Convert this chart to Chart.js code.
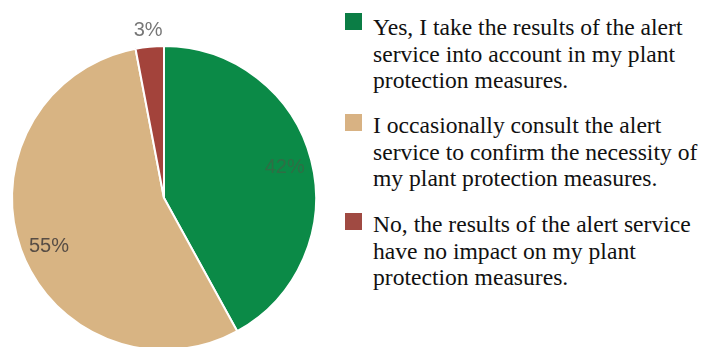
<!DOCTYPE html>
<html>
<head>
<meta charset="utf-8">
<script src="https://cdn.jsdelivr.net/npm/chart.js@4/dist/chart.umd.min.js"></script>
<style>
  html, body { margin: 0; padding: 0; width: 708px; height: 347px; overflow: hidden; background: #fff; }
  #wrap { position: absolute; left: 0; top: 0; width: 340px; height: 362px; }
  #legend { position: absolute; left: 345px; top: 0; width: 363px; font-family: "Liberation Serif", "Times New Roman", serif; font-size: 23.6px; line-height: 26.5px; color: #111; }
  .item { position: absolute; left: 0; width: 363px; }
  .sw { position: absolute; left: 0; width: 17px; height: 17px; }
  .tx { position: absolute; left: 28px; white-space: nowrap; }
</style>
</head>
<body>
<div id="wrap"><canvas id="c"></canvas></div>
<div id="legend"></div>
<script>
const categories = [
  ["Yes, I take the results of the alert", "service into account in my plant", "protection measures."],
  ["I occasionally consult the alert", "service to confirm the necessity of", "my plant protection measures."],
  ["No, the results of the alert service", "have no impact on my plant", "protection measures."]
];
const values = [42, 55, 3];
const valueLabels = ["42%", "55%", "3%"];
const colors = ["#0b8a47", "#d8b483", "#a3433b"];
const legendColors = ["#0b7d45", "#d8b283", "#a04a42"];
const labelColors = ["#2f6e45", "#574d45", "#777777"];

const labelPlugin = {
  id: 'sliceLabels',
  afterDatasetsDraw(chart) {
    const ctx = chart.ctx;
    const meta = chart.getDatasetMeta(0);
    meta.data.forEach((arc, i) => {
      const p = arc.getProps(['x', 'y', 'startAngle', 'endAngle', 'outerRadius'], true);
      const mid = (p.startAngle + p.endAngle) / 2 - (i === 1 ? 0.05 : 0);
      const f = values[i] < 10 ? 1.11 : 0.82;
      const r = p.outerRadius * f;
      const x = p.x + Math.cos(mid) * r;
      const y = p.y + Math.sin(mid) * r;
      ctx.save();
      ctx.font = '20px "Liberation Sans", Arial, sans-serif';
      ctx.fillStyle = labelColors[i];
      ctx.textAlign = 'center';
      ctx.textBaseline = 'middle';
      ctx.fillText(valueLabels[i], x, y);
      ctx.restore();
    });
  }
};

new Chart(document.getElementById('c'), {
  type: 'pie',
  data: {
    labels: categories.map(c => c.join(' ')),
    datasets: [{
      data: values,
      backgroundColor: colors,
      borderColor: '#ffffff',
      borderWidth: 2
    }]
  },
  options: {
    responsive: true,
    maintainAspectRatio: false,
    animation: false,
    layout: { padding: { left: 11, top: 45, right: 23, bottom: 11 } },
    plugins: { legend: { display: false }, tooltip: { enabled: false } }
  },
  plugins: [labelPlugin]
});

const legend = document.getElementById('legend');
const itemTops = [13, 112, 211];
categories.forEach((lines, i) => {
  const item = document.createElement('div');
  item.className = 'item';
  item.style.top = itemTops[i] + 'px';
  const sw = document.createElement('div');
  sw.className = 'sw';
  sw.style.top = (i === 0 ? 0 : 2) + 'px';
  sw.style.background = legendColors[i];
  item.appendChild(sw);
  lines.forEach((t, j) => {
    const tx = document.createElement('div');
    tx.className = 'tx';
    tx.style.top = (j * 26.5 + (i === 0 ? 1 : 0)) + 'px';
    tx.textContent = t;
    item.appendChild(tx);
  });
  legend.appendChild(item);
});
</script>
</body>
</html>
